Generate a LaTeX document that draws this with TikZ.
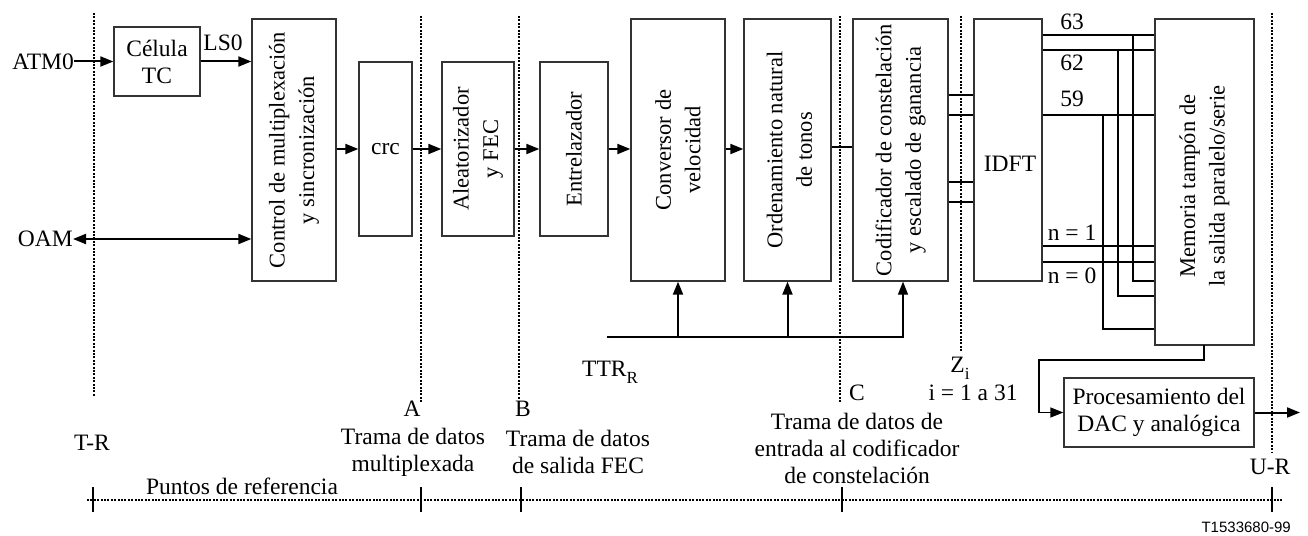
\documentclass[tikz,border=0pt]{standalone}
\usepackage{fontspec}
\setmainfont{Liberation Serif}
\newfontfamily\codefont{Liberation Sans}
\usetikzlibrary{arrows.meta}
\newcommand{\mysub}[1]{\raisebox{-7pt}{\fontsize{17}{17}\selectfont #1}}
\begin{document}
\begin{tikzpicture}[x=1pt,y=-1pt,
  every node/.style={font=\fontsize{23.5}{27}\selectfont, inner sep=0pt},
  box/.style={draw=black!80, line width=1.3pt, rectangle, inner sep=0pt},
  rot/.style={rotate=90, align=center, font=\fontsize{22.5}{29.5}\selectfont},
  arr/.style={line width=2pt, -{Triangle[length=13pt,width=10pt]}},
  darr/.style={line width=2pt, {Triangle[length=13pt,width=10pt]}-{Triangle[length=13pt,width=10pt]}},
  thinarr/.style={line width=1.3pt, -{Triangle[length=13pt,width=10pt]}},
  bus/.style={line width=2pt},
  thinline/.style={line width=1.3pt},
  refline/.style={line width=2pt, dash pattern=on 2pt off 1.4pt},
  tickmark/.style={line width=2pt},
]
\useasboundingbox (0,0) rectangle (1308,535);

% reference (dotted) lines
\draw[refline] (94,13) -- (94,397);
\draw[refline] (421,16) -- (421,402);
\draw[refline] (519,16) -- (519,400);
\draw[refline] (840,16) -- (840,402);
\draw[refline] (961,16) -- (961,352);
\draw[refline] (1272,13) -- (1272,453);
\draw[refline] (87,500) -- (1282,500);
\foreach \tx in {93,421,521,842,1272}
  \draw[tickmark] (\tx,487) -- (\tx,512);

% boxes
\node[box, minimum width=86, minimum height=69, align=center] (cel) at (157,61.5) {Célula\\TC};
\node[box, minimum width=84, minimum height=262] (ctrl) at (294,150) {};
\node[box, minimum width=53, minimum height=174] (crc) at (385.5,149) {crc};
\node[box, minimum width=72, minimum height=174] (ale) at (478,149) {};
\node[box, minimum width=68, minimum height=174] (ent) at (574,149) {};
\node[box, minimum width=94, minimum height=262] (conv) at (678,150) {};
\node[box, minimum width=87, minimum height=262] (ord) at (787.5,150) {};
\node[box, minimum width=95, minimum height=262] (cod) at (900.5,150) {};
\node[box, minimum width=68, minimum height=262] (idft) at (1008,150) {};
\node[box, minimum width=99, minimum height=326] (mem) at (1204.5,182) {};
\node[box, minimum width=190, minimum height=69, align=center] (dac) at (1159,412.5) {Procesamiento del\\DAC y analógica};

% rotated box texts
\node[rot] (ctrlt) at (ctrl) {Control de multiplexación\\y sincronización};
\node[rot] (alet) at (ale) {Aleatorizador\\y FEC};
\node[rot] (entt) at (ent) {Entrelazador};
\node[rot] (convt) at (conv) {Conversor de\\velocidad};
\node[rot] (ordt) at (ord.center) [yshift=-2pt] {Ordenamiento natural\\de tonos};
\node[rot] (codt) at (cod) {Codificador de constelación\\y escalado de ganancia};
\node[rot] (memt) at (1204.5,186) {Memoria tampón de\\la salida paralelo/serie};
\node (idftt) at (1010,164) {IDFT};

% input side
\node[anchor=east] (atm) at (74,61.5) {ATM0};
\node[anchor=east] (oam) at (73,239) {OAM};
\node (ls0) at (223,43) {LS0};
\draw[arr] (atm.east) -- (atm.east -| cel.west);
\draw[arr] (cel.east) -- (cel.east -| ctrl.west);
\draw[darr] (oam.east) -- (oam.east -| ctrl.west);

% main chain
\draw[arr] (ctrl.east |- crc) -- (crc.west);
\draw[arr] (crc.east) -- (ale.west);
\draw[arr] (ale.east) -- (ent.west);
\draw[arr] (ent.east) -- (ent.east -| conv.west);
\draw[arr] (conv.east |- ent) -- (ent -| ord.west);
\draw[bus] (ord.east |- 0,147) -- (cod.west |- 0,147);

% coder to IDFT
\foreach \yy in {95,115,182,202}
  \draw[bus] (cod.east |- 0,\yy) -- (idft.west |- 0,\yy);

% IDFT outputs
\foreach \yy in {35,50,115,246,262}
  \draw[bus] (idft.east |- 0,\yy) -- (mem.west |- 0,\yy);
\draw[thinline] (1133,35) -- (1133,281) -- (mem.west |- 0,281);
\draw[thinline] (1118,50) -- (1118,296) -- (mem.west |- 0,296);
\draw[thinline] (1103,115) -- (1103,329) -- (mem.west |- 0,329);
\node (l63) at (1072,22) {63};
\node (l62) at (1072,63) {62};
\node (l59) at (1072,99) {59};
\node (ln1) at (1072,233) {n = 1};
\node (ln0) at (1072,276) {n = 0};

% memory to DAC and output
\coordinate (memb) at (1204,345);
\coordinate (bend) at (1039,360);
\coordinate (out) at (1300,412.5);
\draw[thinarr] (memb) -- (memb |- bend) -- (bend) -- (bend |- dac.west) -- (dac.west);
\draw[arr] (dac.east) -- (out);

% TTR feed
\coordinate (ttrL) at (607,337);
\coordinate (ttrR) at (903,337);
\draw[thinarr] (ttrL) -- (ttrR) -- (ttrR |- cod.south);
\draw[arr] (conv.south |- ttrL) -- (conv.south);
\draw[arr] (ord.south |- ttrL) -- (ord.south);
\node (ttr) at (610,372) {TTR\mysub{R}};

% reference point labels
\node (zi) at (960,368) {Z\mysub{i}};
\node (irange) at (973,393) {i = 1 a 31};
\node (lc) at (857,393) {C};
\node (la) at (412,409) {A};
\node (lb) at (523,409) {B};
\node (ltr) at (92,443) {T-R};
\node (lur) at (1270,467) {U-R};
\node[align=center] (ta) at (413,452) {Trama de datos\\multiplexada};
\node[align=center] (tb) at (578,452) {Trama de datos\\de salida FEC};
\node[align=center] (tc) at (857,448) {Trama de datos de\\entrada al codificador\\de constelación};
\node (puntos) at (242,486) {Puntos de referencia};
\node[anchor=east, font=\codefont\fontsize{15}{17}\selectfont] (code) at (1291,527) {T1533680-99};
\end{tikzpicture}
\end{document}
